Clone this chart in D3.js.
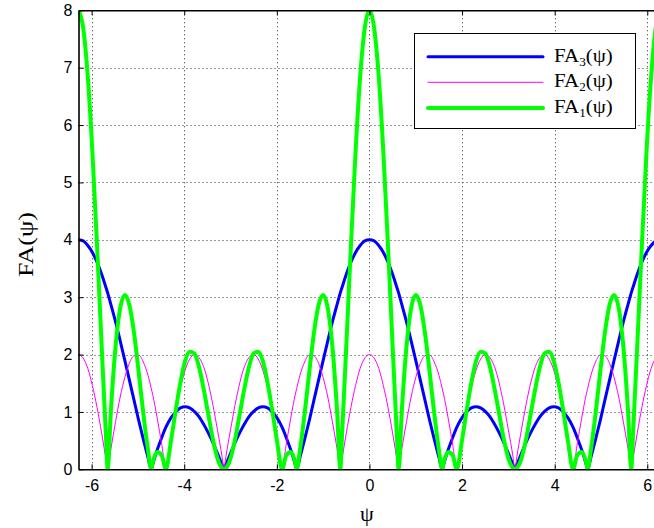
<!DOCTYPE html>
<html><head><meta charset="utf-8">
<script src="https://cdn.jsdelivr.net/npm/d3@7/dist/d3.min.js"></script>
<style>body{margin:0;background:#fff}svg{display:block}</style>
</head><body>
<svg id="chart" width="654" height="528"></svg>
<script>
// ψ sample positions read along the x axis
const psi = [-6.283,-6.183,-6.083,-5.983,-5.883,-5.783,-5.683,-5.655,-5.583,-5.483,-5.383,-5.283,-5.183,-5.083,-4.983,-4.883,-4.783,-4.712,-4.683,-4.583,-4.483,-4.398,-4.283,-4.183,-4.083,-3.983,-3.883,-3.783,-3.683,-3.583,-3.483,-3.383,-3.283,-3.183,-3.142,-3.1,-3.0,-2.9,-2.8,-2.7,-2.6,-2.5,-2.4,-2.3,-2.2,-2.1,-2.0,-1.885,-1.8,-1.7,-1.6,-1.571,-1.5,-1.4,-1.3,-1.2,-1.1,-1.0,-0.9,-0.8,-0.7,-0.628,-0.6,-0.5,-0.4,-0.3,-0.2,-0.1,0,
0.1,0.2,0.3,0.4,0.5,0.6,0.628,0.7,0.8,0.9,1.0,1.1,1.2,1.3,1.4,1.5,1.571,1.6,1.7,1.8,1.885,2.0,2.1,2.2,2.3,2.4,2.5,2.6,2.7,2.8,2.9,3.0,3.1,3.142,3.183,3.283,3.383,3.483,3.583,3.683,3.783,3.883,3.983,4.083,4.183,4.283,4.398,4.483,4.583,4.683,4.712,4.783,4.883,4.983,5.083,5.183,5.283,5.383,5.483,5.583,5.655,5.683,5.783,5.883,5.983,6.083,6.183,6.283];

// FA3(ψ) – blue
const fa3 = [4.00,3.98,3.90,3.78,3.61,3.40,3.15,3.08,2.87,2.57,2.24,1.90,1.55,1.20,0.85,0.52,0.21,0.00,0.08,0.34,0.56,0.73,0.90,1.00,1.07,1.09,1.07,1.01,0.92,0.79,0.64,0.47,0.28,0.08,0.00,0.08,0.28,0.47,0.64,0.79,0.92,1.01,1.07,1.09,1.07,1.00,0.90,0.73,0.56,0.34,0.08,0.00,0.21,0.52,0.85,1.20,1.55,1.90,2.24,2.57,2.87,3.08,3.15,3.40,3.61,3.78,3.90,3.98,4.00,
3.98,3.90,3.78,3.61,3.40,3.15,3.08,2.87,2.57,2.24,1.90,1.55,1.20,0.85,0.52,0.21,0.00,0.08,0.34,0.56,0.73,0.90,1.00,1.07,1.09,1.07,1.01,0.92,0.79,0.64,0.47,0.28,0.08,0.00,0.08,0.28,0.47,0.64,0.79,0.92,1.01,1.07,1.09,1.07,1.00,0.90,0.73,0.56,0.34,0.08,0.00,0.21,0.52,0.85,1.20,1.55,1.90,2.24,2.57,2.87,3.08,3.15,3.40,3.61,3.78,3.90,3.98,4.00];

// FA2(ψ) – magenta
const fa2 = [2.00,1.94,1.76,1.46,1.08,0.63,0.14,0.00,0.36,0.83,1.26,1.60,1.85,1.98,1.99,1.87,1.64,1.41,1.31,0.89,0.42,0.00,0.57,1.02,1.42,1.72,1.92,2.00,1.95,1.79,1.51,1.13,0.69,0.22,0.00,0.22,0.69,1.13,1.51,1.79,1.95,2.00,1.92,1.72,1.42,1.02,0.57,0.00,0.42,0.89,1.31,1.41,1.64,1.87,1.99,1.98,1.85,1.60,1.26,0.83,0.36,0.00,0.14,0.63,1.08,1.46,1.76,1.94,2.00,
1.94,1.76,1.46,1.08,0.63,0.14,0.00,0.36,0.83,1.26,1.60,1.85,1.98,1.99,1.87,1.64,1.41,1.31,0.89,0.42,0.00,0.57,1.02,1.42,1.72,1.92,2.00,1.95,1.79,1.51,1.13,0.69,0.22,0.00,0.22,0.69,1.13,1.51,1.79,1.95,2.00,1.92,1.72,1.42,1.02,0.57,0.00,0.42,0.89,1.31,1.41,1.64,1.87,1.99,1.98,1.85,1.60,1.26,0.83,0.36,0.00,0.14,0.63,1.08,1.46,1.76,1.94,2.00];

// FA1(ψ) – green
const fa1 = [8.00,7.70,6.85,5.53,3.90,2.15,0.45,0.00,1.03,2.14,2.81,3.04,2.86,2.37,1.69,0.97,0.34,0.00,0.11,0.30,0.24,0.00,0.51,1.03,1.51,1.88,2.05,2.02,1.79,1.41,0.97,0.53,0.19,0.02,0.00,0.02,0.19,0.53,0.97,1.41,1.79,2.02,2.05,1.88,1.51,1.03,0.51,0.00,0.24,0.30,0.11,0.00,0.34,0.97,1.69,2.37,2.86,3.04,2.81,2.14,1.03,0.00,0.45,2.15,3.90,5.53,6.85,7.70,8.00,
7.70,6.85,5.53,3.90,2.15,0.45,0.00,1.03,2.14,2.81,3.04,2.86,2.37,1.69,0.97,0.34,0.00,0.11,0.30,0.24,0.00,0.51,1.03,1.51,1.88,2.05,2.02,1.79,1.41,0.97,0.53,0.19,0.02,0.00,0.02,0.19,0.53,0.97,1.41,1.79,2.02,2.05,1.88,1.51,1.03,0.51,0.00,0.24,0.30,0.11,0.00,0.34,0.97,1.69,2.37,2.86,3.04,2.81,2.14,1.03,0.00,0.45,2.15,3.90,5.53,6.85,7.70,8.00];

const xTicks = [-6,-4,-2,0,2,4,6];
const yTicks = [0,1,2,3,4,5,6,7,8];
const xDomain = [-2*Math.PI, 2*Math.PI];
const yDomain = [0, 8];
const legendBase = ["FA","FA","FA"];
const legendSub = ["3","2","1"];
const legendSuffix = "(\u03c8)";
const xLabel = "\u03c8";
const yLabel = "FA(\u03c8)";

const series = [
  {values: fa3, color: "#0000ff", width: 3},
  {values: fa2, color: "#ff00ff", width: 1},
  {values: fa1, color: "#00ff00", width: 4}
];

const svg = d3.select("#chart");
const L = 78.5, T = 10.3, B = 469.3, R = 660.4;
const x = d3.scaleLinear().domain(xDomain).range([L, R]);
const y = d3.scaleLinear().domain(yDomain).range([B, T]);
const sans = "'Liberation Sans', Arial, Helvetica, sans-serif";
const serif = "'Liberation Serif', 'Times New Roman', Times, serif";

svg.append("rect").attr("width", 654).attr("height", 528).attr("fill", "#fff");

// grid
const grid = svg.append("g").attr("stroke", "#333").attr("stroke-width", 1).attr("stroke-dasharray", "1,3");
grid.selectAll(".gx").data(xTicks).join("line")
  .attr("x1", d => Math.round(x(d)) + 0.5).attr("x2", d => Math.round(x(d)) + 0.5)
  .attr("y1", T).attr("y2", B);
grid.selectAll(".gy").data(yTicks.filter(d => d > 0 && d < 8)).join("line")
  .attr("y1", d => Math.round(y(d)) + 0.5).attr("y2", d => Math.round(y(d)) + 0.5)
  .attr("x1", L).attr("x2", R);

// clip
svg.append("clipPath").attr("id", "plotclip").append("rect")
  .attr("x", L).attr("y", T).attr("width", R - L).attr("height", B - T);

const line = d3.line().curve(d3.curveMonotoneX);
const lines = svg.append("g").attr("clip-path", "url(#plotclip)");
series.forEach(s => {
  const n = Math.min(psi.length, s.values.length);
  const pts = d3.range(n).map(i => [x(psi[i]), y(s.values[i])]);
  lines.append("path").attr("d", line(pts)).attr("fill", "none")
    .attr("stroke", s.color).attr("stroke-width", s.width)
    .attr("stroke-linejoin", "round").attr("stroke-linecap", "round");
});

// axes
const fmt = d => String(d);
const axB = svg.append("g").attr("transform", `translate(0,${B})`)
  .call(d3.axisBottom(x).tickValues(xTicks).tickFormat(fmt).tickSizeInner(-5).tickSizeOuter(0).tickPadding(10));
const axT = svg.append("g").attr("transform", `translate(0,${T})`)
  .call(d3.axisTop(x).tickValues(xTicks).tickFormat("").tickSizeInner(-5).tickSizeOuter(0));
const axL = svg.append("g").attr("transform", `translate(${L},0)`)
  .call(d3.axisLeft(y).tickValues(yTicks).tickFormat(fmt).tickSizeInner(-5).tickSizeOuter(0).tickPadding(6));
[axB, axT, axL].forEach(a => {
  a.select(".domain").attr("stroke", "#000").attr("stroke-width", 1.6);
  a.selectAll(".tick line").attr("stroke", "#000").attr("stroke-width", 1);
  a.selectAll("text").attr("font-family", sans).attr("font-size", 16).attr("fill", "#000");
});

// axis labels
svg.append("text").attr("x", 367).attr("y", 521).attr("text-anchor", "middle")
  .attr("font-family", serif).attr("font-size", 22).text(xLabel);
svg.append("text").attr("transform", "translate(32.5,244.5) rotate(-90)").attr("text-anchor", "middle")
  .attr("font-family", serif).attr("font-size", 22)
  .attr("textLength", 65).attr("lengthAdjust", "spacingAndGlyphs").text(yLabel);

// legend
const lg = svg.append("g");
lg.append("rect").attr("x", 414.5).attr("y", 33.5).attr("width", 221).attr("height", 95)
  .attr("fill", "#fff").attr("stroke", "#000").attr("stroke-width", 1);
const rowY = [56.7, 82.3, 108];
series.forEach((s, i) => {
  lg.append("line").attr("x1", 428).attr("x2", 543).attr("y1", rowY[i]).attr("y2", rowY[i])
    .attr("stroke", s.color).attr("stroke-width", s.width).attr("stroke-linecap", "round");
  const t = lg.append("text").attr("transform", `translate(554,${rowY[i] + 5}) scale(1.1,1)`)
    .attr("font-family", serif).attr("font-size", 19).attr("fill", "#000");
  t.append("tspan").text(legendBase[i]);
  t.append("tspan").attr("font-size", 12).attr("dy", 4).text(legendSub[i]);
  t.append("tspan").attr("dy", -4).text(legendSuffix);
});
</script>
</body></html>
